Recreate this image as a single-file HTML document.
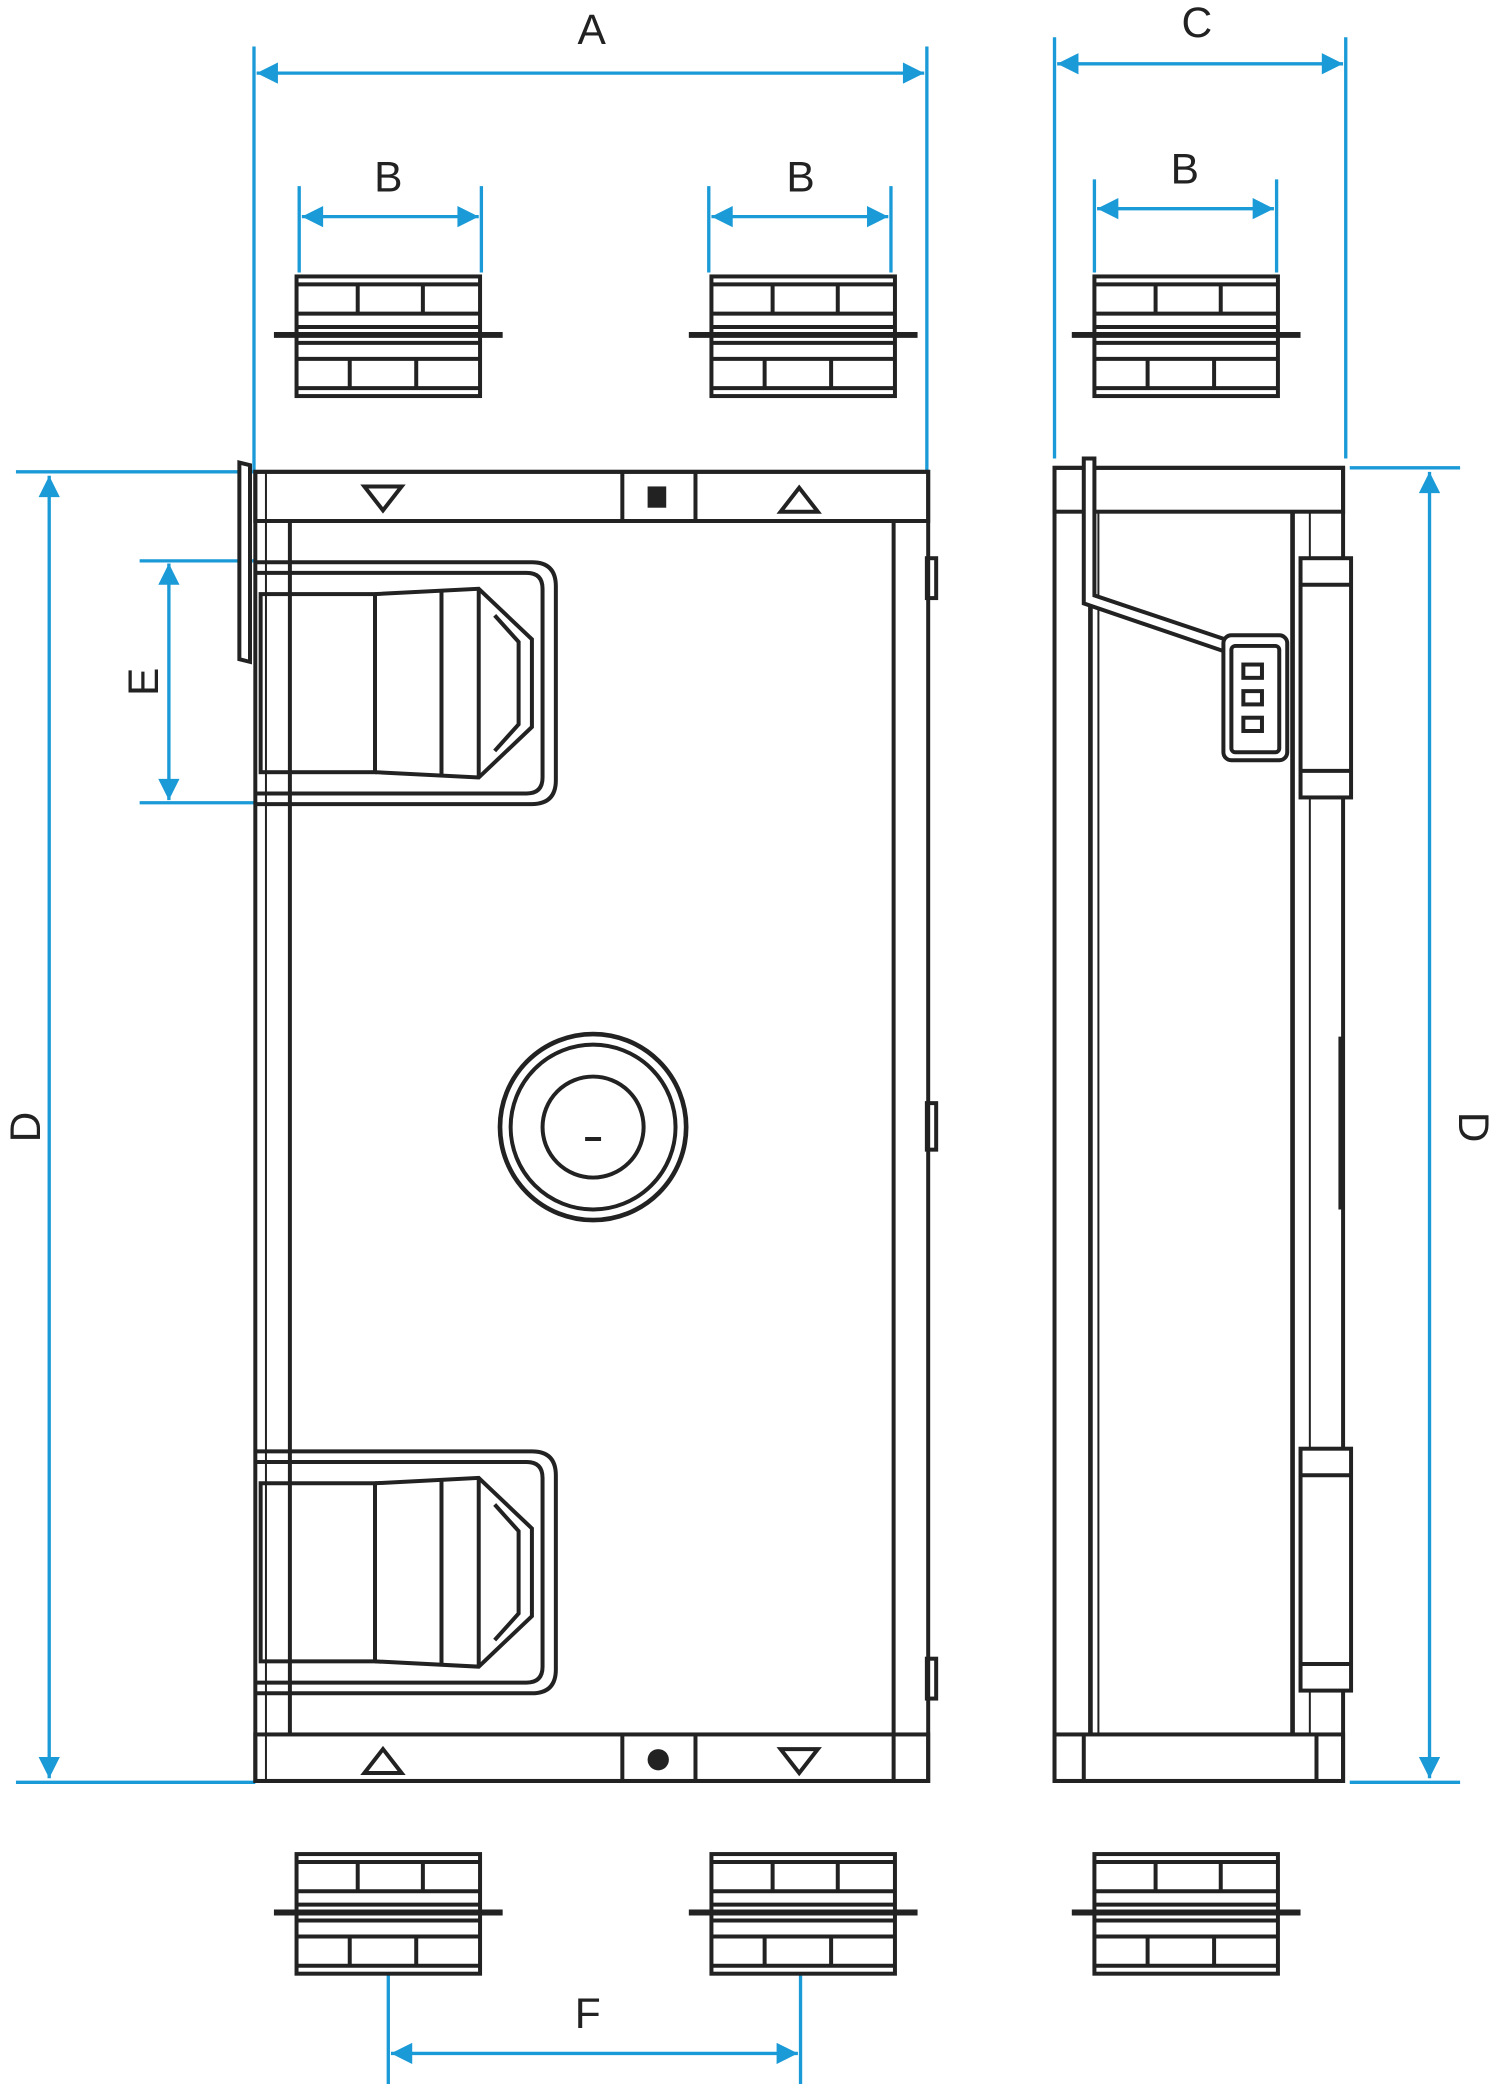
<!DOCTYPE html>
<html><head><meta charset="utf-8"><style>
html,body{margin:0;padding:0;background:#fff;}
svg{display:block;}
text{font-family:"Liberation Sans",sans-serif;font-size:32px;fill:#222;}
</style></head><body>
<svg width="1500" height="2084" viewBox="0 0 1128 1568" preserveAspectRatio="none" xmlns="http://www.w3.org/2000/svg">
<defs>
<marker id="ah" viewBox="0 0 10 10" refX="10" refY="5" markerWidth="20" markerHeight="16" orient="auto-start-reverse" markerUnits="userSpaceOnUse">
<path d="M0,0 L10,5 L0,10 z" fill="#1a9ad6"/></marker>
<g id="duct" stroke="#222" fill="none" stroke-width="3">
<rect x="0" y="0" width="138" height="90" fill="#fff"/>
<line x1="0" y1="28" x2="138" y2="28"/><line x1="0" y1="62" x2="138" y2="62"/>
<line x1="0" y1="6" x2="138" y2="6"/><line x1="0" y1="84" x2="138" y2="84"/>
<line x1="-17" y1="44" x2="155" y2="44" stroke-width="4.5"/>
<line x1="0" y1="38" x2="138" y2="38"/><line x1="0" y1="50" x2="138" y2="50"/>
<line x1="46" y1="6" x2="46" y2="28"/><line x1="95" y1="6" x2="95" y2="28"/>
<line x1="40" y1="62" x2="40" y2="84"/><line x1="90" y1="62" x2="90" y2="84"/>
</g>
<g id="handle" stroke="#222" fill="none" stroke-width="3">
<path d="M192,0 H400 Q418,0 418,18 V164 Q418,182 400,182 H192"/>
<path d="M192,8 H396 Q408,8 408,20 V162 Q408,174 396,174 H192"/>
<rect x="196" y="24" width="86" height="134"/>
<path d="M282,24 L360,20 L400,58 L400,124 L360,162 L282,158"/>
<line x1="332" y1="22" x2="332" y2="160"/>
<line x1="360" y1="20" x2="360" y2="162"/>
<path d="M372,40 L390,60 L390,122 L372,142"/>
</g>
</defs>
<g stroke="#1a9ad6" stroke-width="2.5" fill="none">
<line x1="191" y1="35" x2="191" y2="355"/><line x1="697" y1="35" x2="697" y2="355"/>
<line x1="225" y1="140" x2="225" y2="205"/><line x1="362" y1="140" x2="362" y2="205"/>
<line x1="533" y1="140" x2="533" y2="205"/><line x1="670" y1="140" x2="670" y2="205"/>
<line x1="793" y1="28" x2="793" y2="345"/><line x1="1012" y1="28" x2="1012" y2="345"/>
<line x1="823" y1="135" x2="823" y2="205"/><line x1="960" y1="135" x2="960" y2="205"/>
<line x1="12" y1="355" x2="192" y2="355"/><line x1="12" y1="1341" x2="192" y2="1341"/>
<line x1="105" y1="422" x2="192" y2="422"/><line x1="105" y1="604" x2="192" y2="604"/>
<line x1="1015" y1="352" x2="1098" y2="352"/><line x1="1015" y1="1341" x2="1098" y2="1341"/>
<line x1="292" y1="1485" x2="292" y2="1568"/><line x1="602" y1="1485" x2="602" y2="1568"/>
<line x1="193" y1="55" x2="695" y2="55" marker-start="url(#ah)" marker-end="url(#ah)"/>
<line x1="227" y1="163" x2="360" y2="163" marker-start="url(#ah)" marker-end="url(#ah)"/>
<line x1="535" y1="163" x2="668" y2="163" marker-start="url(#ah)" marker-end="url(#ah)"/>
<line x1="795" y1="48" x2="1010" y2="48" marker-start="url(#ah)" marker-end="url(#ah)"/>
<line x1="825" y1="157" x2="958" y2="157" marker-start="url(#ah)" marker-end="url(#ah)"/>
<line x1="37" y1="358" x2="37" y2="1338" marker-start="url(#ah)" marker-end="url(#ah)"/>
<line x1="127" y1="424" x2="127" y2="602" marker-start="url(#ah)" marker-end="url(#ah)"/>
<line x1="1075" y1="355" x2="1075" y2="1338" marker-start="url(#ah)" marker-end="url(#ah)"/>
<line x1="294" y1="1545" x2="600" y2="1545" marker-start="url(#ah)" marker-end="url(#ah)"/>
</g>
<text x="445" y="33" text-anchor="middle">A</text>
<text x="292" y="144" text-anchor="middle">B</text>
<text x="602" y="144" text-anchor="middle">B</text>
<text x="900" y="28" text-anchor="middle">C</text>
<text x="891" y="138" text-anchor="middle">B</text>
<text x="442" y="1526" text-anchor="middle">F</text>
<text transform="translate(30,848) rotate(-90)" text-anchor="middle">D</text>
<text transform="translate(119,513) rotate(-90)" text-anchor="middle">E</text>
<text transform="translate(1097,848) rotate(90)" text-anchor="middle">D</text>
<use href="#duct" x="223" y="208"/><use href="#duct" x="535" y="208"/><use href="#duct" x="823" y="208"/>
<use href="#duct" x="223" y="1395"/><use href="#duct" x="535" y="1395"/><use href="#duct" x="823" y="1395"/>
<g stroke="#222" fill="none" stroke-width="3">
<rect x="192" y="355" width="506" height="985" fill="#fff"/>
<rect x="192" y="355" width="506" height="37"/>
<rect x="192" y="1305" width="506" height="35"/>
<line x1="218" y1="392" x2="218" y2="1305"/><line x1="672" y1="392" x2="672" y2="1305"/>
<line x1="200" y1="355" x2="200" y2="1340" stroke-width="1.5"/>
<line x1="468" y1="355" x2="468" y2="392"/><line x1="523" y1="355" x2="523" y2="392"/>
<line x1="468" y1="1305" x2="468" y2="1340"/><line x1="523" y1="1305" x2="523" y2="1340"/>
<line x1="672" y1="1305" x2="672" y2="1340"/>
<path d="M274,366 L302,366 L288,384 z"/>
<path d="M587,385 L615,385 L601,367 z"/>
<path d="M274,1334 L302,1334 L288,1316 z"/>
<path d="M587,1316 L615,1316 L601,1334 z"/>
<circle cx="446" cy="848" r="70" stroke-width="3.5"/>
<circle cx="446" cy="848" r="62"/>
<circle cx="446" cy="848" r="38"/>
<line x1="440" y1="857" x2="452" y2="857"/>
<rect x="697" y="420" width="7" height="30"/><rect x="697" y="830" width="7" height="35"/><rect x="697" y="1248" width="7" height="30"/>
<path d="M180,348 L188,350 L188,498 L180,496 z" fill="#fff"/>
</g>
<rect x="487" y="366" width="14" height="16" fill="#222"/>
<circle cx="495" cy="1324" r="8" fill="#222"/>
<use href="#handle" y="423"/><use href="#handle" y="1092"/>
<g stroke="#222" fill="none" stroke-width="3">
<rect x="793" y="352" width="217" height="988" fill="#fff"/>
<rect x="793" y="352" width="217" height="33"/>
<rect x="793" y="1305" width="217" height="35"/>
<line x1="820" y1="385" x2="820" y2="1305" stroke-width="3.5"/>
<line x1="826" y1="385" x2="826" y2="1305" stroke-width="1.5"/>
<line x1="972" y1="385" x2="972" y2="1305" stroke-width="3.5"/>
<line x1="985" y1="385" x2="985" y2="1305" stroke-width="1.5"/>
<line x1="815" y1="1305" x2="815" y2="1340"/><line x1="990" y1="1305" x2="990" y2="1340"/>
<rect x="978" y="420" width="38" height="180" fill="#fff"/>
<line x1="978" y1="440" x2="1016" y2="440"/><line x1="978" y1="580" x2="1016" y2="580"/>
<rect x="978" y="1090" width="38" height="182" fill="#fff"/>
<line x1="978" y1="1110" x2="1016" y2="1110"/><line x1="978" y1="1252" x2="1016" y2="1252"/>
<path d="M815,345 L823,345 L823,448 L942,488 L938,496 L815,454 z" fill="#fff"/>
<rect x="920" y="478" width="48" height="94" rx="6" fill="#fff"/>
<rect x="926" y="486" width="36" height="80" rx="3"/>
<rect x="935" y="500" width="14" height="10"/><rect x="935" y="520" width="14" height="10"/><rect x="935" y="540" width="14" height="10"/>
<line x1="1008" y1="780" x2="1008" y2="910"/>
</g>
</svg>
</body></html>
